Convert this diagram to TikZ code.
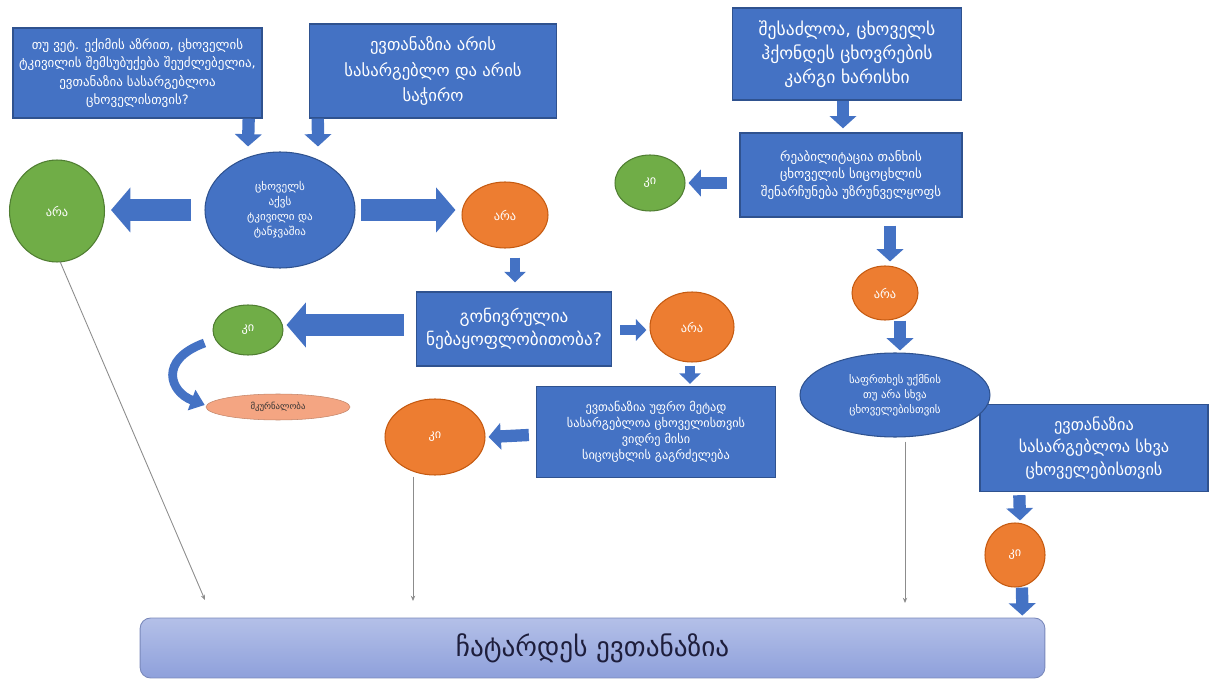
\documentclass[tikz,border=0pt]{standalone}
\usepackage{fontspec}
\setmainfont{DejaVu Sans}
\usetikzlibrary{arrows.meta,shapes.geometric,calc}
\definecolor{boxblue}{HTML}{4472C4}
\definecolor{boxborder}{HTML}{2F528F}
\definecolor{arrblue}{HTML}{4472C4}
\definecolor{grfill}{HTML}{70AD47}
\definecolor{grborder}{HTML}{507E32}
\definecolor{orfill}{HTML}{ED7D31}
\definecolor{orborder}{HTML}{C55A11}
\definecolor{salfill}{HTML}{F4A582}
\definecolor{barTop}{HTML}{B4C0E8}
\definecolor{barBot}{HTML}{8EA0DB}
\definecolor{barText}{HTML}{1E1E3C}
\definecolor{thin}{HTML}{8C8C8C}
\begin{document}
\begin{tikzpicture}[x=0.02cm,y=-0.02cm,
  box/.style={draw=boxborder,line width=0.8pt,fill=boxblue,text=white,align=center,inner sep=1pt},
  bell/.style={ellipse,draw=boxborder,line width=0.6pt,fill=boxblue,text=white,align=center,inner sep=0pt},
  gr/.style={ellipse,draw=grborder,line width=0.6pt,fill=grfill,text=white,inner sep=0pt,font=\fontsize{7}{8}\selectfont},
  orn/.style={ellipse,draw=orborder,line width=0.6pt,fill=orfill,text=white,inner sep=0pt,font=\fontsize{7}{8}\selectfont},
  bigarr/.style={draw=arrblue,line width=12pt,-{Triangle[length=11pt,width=25pt]}},
  midarr/.style={draw=arrblue,line width=7pt,-{Triangle[length=7pt,width=15pt]}},
  smallarr/.style={draw=arrblue,line width=5.5pt,-{Triangle[length=6pt,width=12pt]}},
  thinarr/.style={draw=thin,line width=0.5pt,-{Stealth[length=3pt,width=2.5pt]}}
]
\useasboundingbox (0,0) rectangle (1211,682);

% top boxes
\node[box,minimum width=4.98cm,minimum height=1.8cm,font=\fontsize{7.4}{10.5}\selectfont] (tl) at (137.5,73)
 {თუ ვეტ. ექიმის აზრით, ცხოველის\\ ტკივილის შემსუბუქება შეუძლებელია,\\ ევთანაზია სასარგებლოა\\ ცხოველისთვის?};
\node[box,minimum width=4.94cm,minimum height=1.88cm,font=\fontsize{9.5}{14.5}\selectfont] (tm) at (433,71)
 {ევთანაზია არის\\ სასარგებლო და არის\\ საჭირო};
\node[box,minimum width=4.58cm,minimum height=1.84cm,font=\fontsize{10}{13.5}\selectfont] (tr) at (847,54)
 {შესაძლოა, ცხოველს\\ ჰქონდეს ცხოვრების\\ კარგი ხარისხი};
\node[box,minimum width=4.44cm,minimum height=1.68cm,font=\fontsize{7.4}{10}\selectfont] (rb) at (851,175)
 {რეაბილიტაცია თანხის\\ ცხოველის სიცოცხლის\\ შენარჩუნება უზრუნველყოფს};
\node[box,minimum width=3.9cm,minimum height=1.48cm,font=\fontsize{9.8}{13}\selectfont] (mb) at (514,329)
 {გონივრულია\\ ნებაყოფლობითობა?};
\node[box,minimum width=4.78cm,minimum height=1.82cm,font=\fontsize{7}{9}\selectfont] (lb) at (656,432)
 {ევთანაზია უფრო მეტად\\ სასარგებლოა ცხოველისთვის\\ ვიდრე მისი\\ სიცოცხლის გაგრძელება};
\node[box,minimum width=4.56cm,minimum height=1.74cm,font=\fontsize{9.3}{13}\selectfont] (rlb) at (1094,448)
 {ევთანაზია\\ სასარგებლოა სხვა\\ ცხოველებისთვის};

% ellipses
\node[bell,minimum width=3.0cm,minimum height=2.32cm,font=\fontsize{6.3}{8.5}\selectfont] (cel) at (280,210)
 {ცხოველს\\ აქვს\\ ტკივილი და\\ ტანჯვაშია};
\node[bell,minimum width=3.8cm,minimum height=1.68cm,font=\fontsize{6.2}{8.5}\selectfont] (bel) at (895,395)
 {საფრთხეს უქმნის\\ თუ არა სხვა\\ ცხოველებისთვის};
\node[gr,minimum width=1.9cm,minimum height=2.04cm] (gL) at (57,211) {არა};
\node[orn,minimum width=1.72cm,minimum height=1.32cm] (o1) at (505,215) {არა};
\node[gr,minimum width=1.4cm,minimum height=1.0cm] (g2) at (248,330) {კი};
\node[ellipse,draw=salfill!80!black,line width=0.3pt,fill=salfill,inner sep=0pt,minimum width=2.88cm,minimum height=0.52cm,font=\fontsize{5}{6}\selectfont,text=black!80] (sal) at (278,407) {მკურნალობა};
\node[orn,minimum width=1.68cm,minimum height=1.4cm] (o2) at (692,327) {არა};
\node[orn,minimum width=2.0cm,minimum height=1.52cm] (o3) at (435,437) {კი};
\node[gr,minimum width=1.4cm,minimum height=1.12cm] (g3) at (650,183) {კი};
\node[orn,minimum width=1.32cm,minimum height=1.08cm] (o4) at (885,293) {არა};
\node[orn,minimum width=1.2cm,minimum height=1.28cm] (o5) at (1015,555) {კი};

% bottom bar
\node[draw=barBot!85!black,line width=0.5pt,rounded corners=6pt,top color=barTop,bottom color=barBot,
  minimum width=18.1cm,minimum height=1.2cm,text=barText,font=\fontsize{15.5}{17}\selectfont] (bar) at (592.5,648)
 {ჩატარდეს ევთანაზია};

% block arrows
\draw[midarr] ($(tl.south east)+(-14,0)$) -- ($(cel.north)+(-32,-5)$);
\draw[midarr] ($(tm.south west)+(9,0)$) -- ($(cel.north)+(38,-5)$);
\draw[bigarr] ($(cel.west)+(-13,0)$) -- ($(gL.east)+(6,-1)$);
\draw[bigarr] ($(cel.east)+(5,0)$) -- ($(o1.west)+(-6,-5)$);
\draw[smallarr] ($(o1.south)+(10,9)$) -- ($(mb.north)+(1,-9)$);
\draw[bigarr] ($(mb.west)+(-12,-4)$) -- ($(g2.east)+(3,-5)$);
\draw[draw=arrblue,line width=5pt,-{Triangle[length=8pt,width=12pt]}] ($(g2.west)+(-8,13)$) .. controls (158,360) and (170,392) .. ($(sal.west)+(-1,-2)$);
\draw[smallarr] ($(mb.east)+(8,1)$) -- ($(o2.west)+(-3,3)$);
\draw[smallarr] ($(o2.south)+(-2,3)$) -- ($(lb.north)+(34,-2)$);
\draw[midarr] ($(lb.west)+(-7,3)$) -- ($(o3.east)+(3,0)$);
\draw[midarr] ($(tr.south)+(-4,0)$) -- ($(rb.north)+(-8,-4)$);
\draw[midarr] ($(rb.west)+(-12,8)$) -- ($(g3.east)+(3,0)$);
\draw[midarr] ($(rb.south)+(39,8)$) -- ($(o4.north)+(5,-4)$);
\draw[midarr] ($(o4.south)+(15,0)$) -- ($(bel.north)+(5,-2)$);
\draw[midarr] ($(rlb.south west)+(40,3)$) -- ($(o5.north)+(5,-2)$);
\draw[midarr] ($(o5.south)+(7,0)$) -- ($(bar.north east)+(-23,-2)$);

% thin lines
\coordinate (e1) at (205,600);
\coordinate (e2) at (413,601);
\coordinate (e3) at (905,603);
\draw[thinarr] ($(gL.south)+(3,-1)$) -- (e1);
\draw[thinarr] ($(o3.south)+(-22,1)$) -- (e2);
\draw[thinarr] ($(bel.south)+(10,4)$) -- (e3);
\end{tikzpicture}
\end{document}
